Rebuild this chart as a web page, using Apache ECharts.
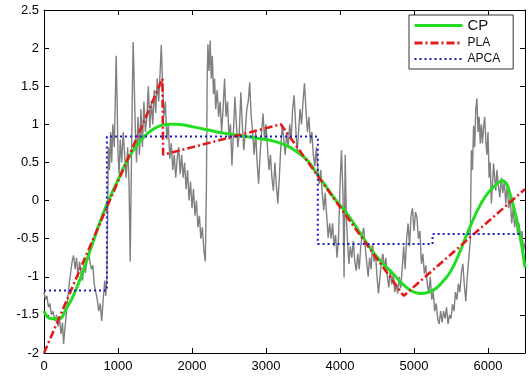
<!DOCTYPE html>
<html><head><meta charset="utf-8">
<script src="https://cdn.jsdelivr.net/npm/echarts@6/dist/echarts.min.js"></script>
<style>html,body{margin:0;padding:0;background:#fff}#c{width:529px;height:376px}</style>
</head><body><div id="c"></div>
<script>
const seriesNames = ['CP', 'PLA', 'APCA'];
const xRange = [0, 6500, 1000];
const yRange = [-2, 2.5, 0.5];

const rawSignal = [
[0,-1.2],[20,-1.3],[40,-1.25],[60,-1.4],[80,-1.35],[100,-1.5],[120,-1.45],[150,-1.58],[170,-1.5],[190,-1.65],[210,-1.55],[230,-1.75],[250,-1.6],[265,-1.88],[280,-1.7],[300,-1.5],[320,-1.3],[340,-1.1],[360,-0.95],[380,-0.8],[400,-0.72],[420,-0.9],[440,-0.75],[460,-1.0],[480,-0.8],[500,-0.95],[520,-1.05],[540,-0.85],[560,-0.95],[580,-0.78],[600,-0.7],[620,-0.68],[640,-0.9],[660,-0.85],[680,-1.1],[700,-1.2],[720,-1.3],[740,-1.45],[760,-1.35],[780,-1.58],[800,-1.3],[820,-1.05],[835,-1.25],[850,-1.0],[860,-0.2],[870,0.7],[885,0.4],[900,0.9],[915,0.5],[930,1.0],[950,0.7],[965,1.4],[975,1.9],[990,1.2],[1000,0.6],[1015,0.35],[1030,0.8],[1050,0.5],[1070,0.9],[1090,0.6],[1110,0.3],[1130,0.7],[1150,0.2],[1165,-0.8],[1180,0.4],[1195,1.5],[1205,2.08],[1220,1.5],[1235,0.9],[1250,0.5],[1270,1.1],[1290,0.6],[1310,1.2],[1330,0.7],[1350,1.3],[1370,0.9],[1390,1.1],[1410,1.5],[1430,0.95],[1450,1.3],[1470,1.0],[1490,1.45],[1510,1.15],[1530,1.6],[1550,1.3],[1570,1.7],[1585,2.04],[1600,1.6],[1620,1.1],[1640,1.3],[1660,0.8],[1680,1.0],[1700,0.55],[1720,0.75],[1740,0.4],[1760,0.6],[1780,0.3],[1800,0.55],[1820,0.7],[1840,0.35],[1860,0.6],[1880,0.3],[1900,0.5],[1920,0.15],[1940,0.4],[1960,0.0],[1980,0.25],[2000,-0.1],[2020,0.15],[2040,-0.2],[2060,0.0],[2080,-0.35],[2100,-0.2],[2120,-0.5],[2140,-0.35],[2160,-0.65],[2180,-0.8],[2195,0.2],[2205,1.6],[2215,2.05],[2230,1.7],[2245,2.1],[2260,1.6],[2275,1.9],[2290,1.4],[2305,1.6],[2320,1.2],[2340,1.45],[2360,1.1],[2380,1.3],[2400,0.9],[2420,1.2],[2440,1.6],[2460,1.1],[2480,1.3],[2500,0.8],[2520,1.0],[2540,0.46],[2560,0.9],[2580,1.36],[2600,1.0],[2620,0.7],[2640,0.9],[2660,1.42],[2680,1.0],[2700,0.66],[2720,0.9],[2740,1.2],[2760,1.3],[2780,1.55],[2800,1.1],[2820,0.9],[2840,0.6],[2860,0.9],[2880,0.5],[2900,0.22],[2920,0.6],[2940,0.9],[2960,1.14],[2980,0.8],[3000,1.0],[3020,0.7],[3040,0.4],[3060,0.6],[3080,0.3],[3100,0.13],[3120,0.5],[3140,0.2],[3160,-0.04],[3180,0.3],[3200,0.7],[3220,0.99],[3240,0.8],[3260,0.6],[3280,0.9],[3300,0.7],[3320,1.0],[3340,0.8],[3360,1.2],[3380,1.38],[3400,1.0],[3420,0.62],[3440,0.9],[3460,1.2],[3480,1.0],[3500,1.3],[3520,1.54],[3540,1.2],[3560,0.9],[3580,1.1],[3600,0.75],[3620,0.9],[3640,0.6],[3660,0.45],[3680,0.7],[3700,0.4],[3720,0.22],[3740,0.4],[3760,0.1],[3780,-0.13],[3800,0.1],[3820,-0.2],[3840,-0.49],[3860,-0.3],[3880,-0.5],[3900,-0.3],[3920,-0.6],[3940,-0.45],[3960,-0.75],[3980,-0.5],[4000,0.2],[4020,0.66],[4040,0.1],[4055,-1.01],[4070,0.6],[4085,-0.2],[4100,-0.5],[4120,-0.83],[4140,-0.6],[4160,-0.75],[4180,-0.53],[4200,-0.8],[4220,-0.92],[4240,-0.7],[4260,-0.9],[4280,-0.6],[4300,-0.45],[4320,-0.36],[4340,-0.6],[4360,-0.8],[4380,-1.0],[4400,-0.75],[4420,-0.9],[4440,-0.57],[4460,-0.8],[4480,-0.7],[4500,-1.0],[4520,-1.22],[4540,-1.0],[4560,-0.8],[4580,-0.7],[4600,-0.9],[4620,-0.75],[4640,-1.0],[4660,-1.14],[4680,-0.9],[4700,-1.1],[4720,-0.96],[4740,-1.2],[4760,-1.1],[4780,-1.22],[4800,-1.0],[4820,-1.15],[4840,-0.9],[4860,-0.6],[4880,-0.9],[4900,-0.5],[4920,-0.3],[4940,-0.6],[4960,-0.2],[4980,-0.1],[5000,-0.4],[5020,-0.15],[5040,-0.22],[5060,-0.5],[5080,-0.4],[5100,-0.83],[5120,-0.7],[5140,-0.96],[5160,-0.85],[5180,-1.1],[5200,-1.22],[5220,-1.0],[5240,-1.3],[5260,-1.2],[5280,-1.45],[5300,-1.35],[5320,-1.55],[5340,-1.62],[5360,-1.45],[5380,-1.6],[5400,-1.45],[5420,-1.55],[5440,-1.4],[5460,-1.62],[5480,-1.5],[5500,-1.55],[5520,-1.36],[5540,-1.45],[5560,-1.2],[5580,-1.3],[5600,-1.09],[5620,-1.2],[5640,-0.95],[5660,-0.83],[5680,-1.1],[5700,-1.32],[5720,-1.0],[5740,-1.01],[5760,-0.53],[5775,0.66],[5790,0.4],[5805,0.98],[5820,0.7],[5835,1.2],[5850,1.34],[5865,0.9],[5880,1.1],[5895,0.75],[5910,1.0],[5925,0.75],[5940,0.96],[5955,1.1],[5970,0.8],[5985,0.6],[6000,0.9],[6015,0.3],[6030,0.5],[6045,-0.04],[6060,0.2],[6075,0.49],[6090,0.3],[6105,0.13],[6120,0.4],[6140,0.2],[6160,0.04],[6180,0.3],[6200,0.1],[6220,0.25],[6240,-0.04],[6260,0.2],[6280,-0.1],[6300,0.05],[6320,-0.3],[6340,-0.1],[6360,-0.35],[6380,-0.2],[6400,-0.45],[6420,-0.3],[6440,-0.57],[6460,-0.4],[6480,-0.66],[6500,-0.55]
];

const cpCurve = [
[0,-1.45],[100,-1.55],[200,-1.55],[300,-1.42],[400,-1.24],[500,-1.0],[600,-0.72],[700,-0.44],[800,-0.17],[900,0.06],[1000,0.27],[1100,0.48],[1200,0.65],[1300,0.78],[1400,0.88],[1500,0.95],[1600,0.99],[1700,1.0],[1800,1.0],[1900,0.99],[2000,0.97],[2100,0.95],[2200,0.93],[2400,0.89],[2600,0.86],[2800,0.83],[3000,0.8],[3100,0.78],[3200,0.75],[3300,0.71],[3400,0.65],[3500,0.58],[3600,0.48],[3700,0.33],[3800,0.2],[3900,0.06],[4000,-0.06],[4100,-0.18],[4200,-0.32],[4300,-0.47],[4400,-0.61],[4500,-0.74],[4600,-0.85],[4700,-0.94],[4800,-1.05],[4900,-1.14],[5000,-1.2],[5100,-1.22],[5200,-1.2],[5300,-1.15],[5400,-1.05],[5500,-0.92],[5600,-0.72],[5700,-0.48],[5800,-0.25],[5900,-0.05],[6000,0.1],[6100,0.2],[6200,0.26],[6250,0.22],[6300,0.08],[6350,-0.1],[6400,-0.3],[6450,-0.55],[6500,-0.88]
];

const plaSegments = [[0,-2.0],[1600,1.6],[1610,0.6],[3200,1.0],[4860,-1.25],[6500,0.15]];

const apcaSteps = [[0,-1.18],[850,-1.18],[850,0.84],[3700,0.84],[3700,-0.57],[5250,-0.57],[5250,-0.44],[6450,-0.44]];

const FONT = 'Liberation Sans';
const chart = echarts.init(document.getElementById('c'), null, {renderer: 'canvas'});

const baseX = {
  type: 'value', min: xRange[0], max: xRange[1], interval: xRange[2],
  splitLine: {show: false},
  axisLine: {show: true, onZero: false, lineStyle: {color: '#000', width: 1}},
  axisTick: {show: true, inside: true, length: 5, lineStyle: {color: '#000'}}
};
const baseY = {
  type: 'value', min: yRange[0], max: yRange[1], interval: yRange[2],
  splitLine: {show: false},
  axisLine: {show: true, onZero: false, lineStyle: {color: '#000', width: 1}},
  axisTick: {show: true, inside: true, length: 5, lineStyle: {color: '#000'}}
};
const hideSym = {color: 'rgba(0,0,0,0)', borderColor: 'rgba(0,0,0,0)', borderWidth: 0};

chart.setOption({
  backgroundColor: '#fff',
  animation: false,
  grid: {left: 44, right: 4, top: 10, bottom: 23, containLabel: false},
  xAxis: [
    Object.assign({}, baseX, {position: 'bottom', axisLabel: {show: true, showMaxLabel: false, margin: 7, color: '#000', fontFamily: FONT, fontSize: 13, formatter: v => String(v)}}),
    Object.assign({}, baseX, {position: 'top', axisLabel: {show: false}})
  ],
  yAxis: [
    Object.assign({}, baseY, {position: 'left', axisLabel: {show: true, margin: 5, color: '#000', fontFamily: FONT, fontSize: 13, formatter: v => String(v)}}),
    Object.assign({}, baseY, {position: 'right', axisLabel: {show: false}})
  ],
  legend: {
    orient: 'vertical', left: 409, top: 15,
    itemWidth: 48, itemHeight: 12, itemGap: 4,
    padding: [3, 13, 4, 4],
    borderColor: '#333', borderWidth: 1, backgroundColor: '#fff',
    textStyle: {fontFamily: FONT, fontSize: 12, color: '#111'},
    data: [
      {name: 'CP', textStyle: {fontSize: 15}, lineStyle: {width: 3}, itemStyle: hideSym},
      {name: 'PLA', lineStyle: {width: 3}, itemStyle: hideSym},
      {name: 'APCA', lineStyle: {width: 2}, itemStyle: hideSym}
    ]
  },
  series: [
    {name: 'signal', type: 'line', data: rawSignal, symbol: 'none', z: 1,
     lineStyle: {color: '#808080', width: 1.4}, itemStyle: {color: '#808080'}},
    {name: seriesNames[0], type: 'line', data: cpCurve, symbol: 'none', smooth: true, z: 2,
     lineStyle: {color: '#22dd22', width: 3}, itemStyle: {color: '#22dd22'}},
    {name: seriesNames[1], type: 'line', data: plaSegments, symbol: 'none', z: 3,
     lineStyle: {color: '#e41a1a', width: 2.6, type: [8, 3, 2, 3]}, itemStyle: {color: '#e41a1a'}},
    {name: seriesNames[2], type: 'line', data: apcaSteps, symbol: 'none', z: 4,
     lineStyle: {color: '#1a1ac8', width: 2, type: [2, 3]}, itemStyle: {color: '#1a1ac8'}}
  ]
});
</script>
</body></html>
